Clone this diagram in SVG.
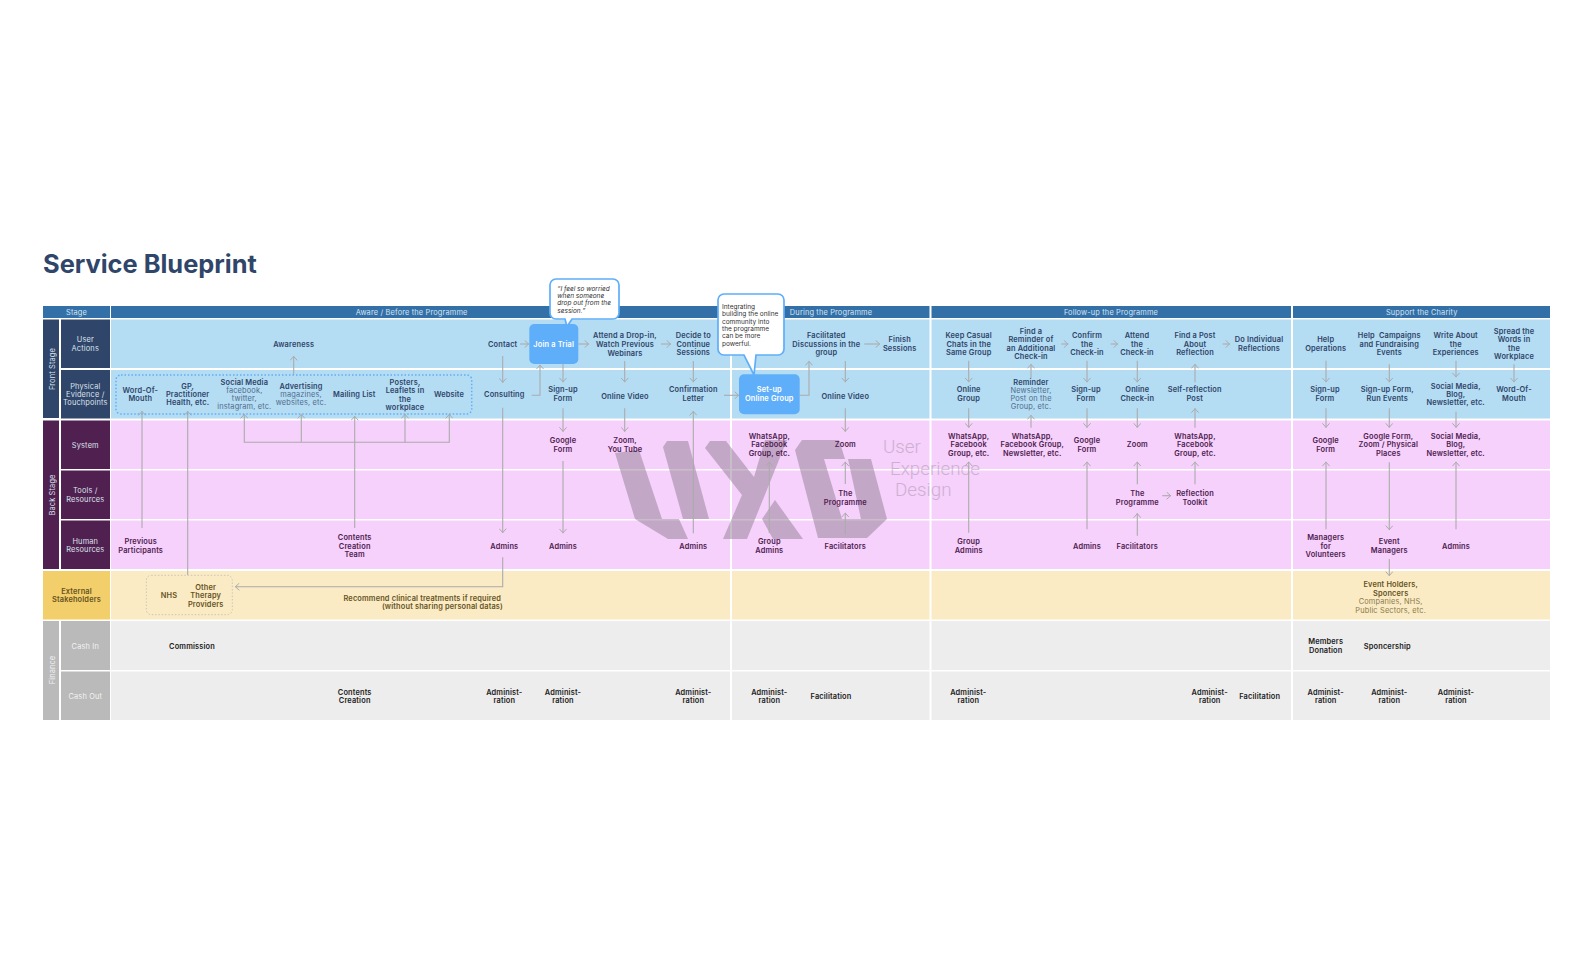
<svg xmlns="http://www.w3.org/2000/svg" width="1594" height="980" viewBox="0 0 1594 980">
<style>
text{font-family:Inter,"Noto Sans","Liberation Sans",sans-serif;font-size:7.4px;font-weight:600;text-anchor:middle;letter-spacing:.16px}
.t{font-size:25.4px;font-weight:700;fill:#2F4569;text-anchor:start;letter-spacing:0}
.h{fill:#D5E4F2;font-weight:400;font-size:7.4px}
.l{fill:#DDE3EE;font-weight:400;font-size:7.4px}
.lg{fill:#F3F3F3;font-weight:400;font-size:7.4px}
.b{fill:#2F4569}.p{fill:#4F2050}.y{fill:#66531F}.k{fill:#222}
.s{font-weight:400;opacity:.75}
.w{fill:#fff}
.q{font-size:6.5px;font-weight:400;text-anchor:start;fill:#333;letter-spacing:0}
.c path{fill:none;stroke:#ABABAB;stroke-width:1.1}
.a{marker-end:url(#ah)}
.wm{font-family:Roboto,Inter,sans-serif;font-size:18.8px;font-weight:300;fill:#917D93;opacity:.4;text-anchor:start;letter-spacing:0}
</style>
<defs>
<marker id="ah" markerUnits="userSpaceOnUse" viewBox="0 0 5 8" refX="5" refY="4" markerWidth="5" markerHeight="8" orient="auto"><path d="M.6.4 4.6 4 .6 7.6" fill="none" stroke="#ABABAB" stroke-width="1"/></marker>
</defs>
<rect width="1594" height="980" fill="#fff"/>
<text class="t" x="43" y="273">Service Blueprint</text>

<g id="grid">
<rect x="43" y="306" width="67" height="12" fill="#3470A8"/>
<rect x="111" y="306" width="1439" height="12" fill="#3470A8"/>
<rect x="111" y="319.5" width="1439" height="48.5" fill="#B4DCF3"/>
<rect x="111" y="370" width="1439" height="48.5" fill="#B4DCF3"/>
<rect x="111" y="420.5" width="1439" height="48.5" fill="#F5D1FB"/>
<rect x="111" y="470.5" width="1439" height="48.5" fill="#F5D1FB"/>
<rect x="111" y="520.5" width="1439" height="48.5" fill="#F5D1FB"/>
<rect x="111" y="571" width="1439" height="48.5" fill="#FAEBC4"/>
<rect x="111" y="621" width="1439" height="49" fill="#EDEDED"/>
<rect x="111" y="671.5" width="1439" height="48.5" fill="#EDEDED"/>
<rect x="730" y="306" width="2" height="414" fill="#fff"/>
<rect x="929.5" y="306" width="2" height="414" fill="#fff"/>
<rect x="1291" y="306" width="2" height="414" fill="#fff"/>
<rect x="43" y="319.5" width="16" height="98.5" fill="#2F4569"/>
<rect x="43" y="420.5" width="16" height="148.5" fill="#4F2050"/>
<rect x="43" y="621" width="16" height="99" fill="#BABABA"/>
<rect x="61" y="319.5" width="49" height="48.5" fill="#2F4569"/>
<rect x="61" y="370" width="49" height="48.5" fill="#2F4569"/>
<rect x="61" y="420.5" width="49" height="48.5" fill="#4F2050"/>
<rect x="61" y="470.5" width="49" height="48.5" fill="#4F2050"/>
<rect x="61" y="520.5" width="49" height="48.5" fill="#4F2050"/>
<rect x="43" y="571" width="67" height="48.5" fill="#F3CF6B"/>
<rect x="61" y="621" width="49" height="49" fill="#BABABA"/>
<rect x="61" y="671.5" width="49" height="48.5" fill="#BABABA"/>
</g>

<g id="headers">
<text class="h" x="76.5" y="315">Stage</text>
<text class="h" x="411.6" y="315">Aware / Before the Programme</text>
<text class="h" x="831" y="315">During the Programme</text>
<text class="h" x="1111" y="315">Follow-up the Programme</text>
<text class="h" x="1421.7" y="315">Support the Charity</text>
<text class="l" transform="translate(54.5 369) rotate(-90)">Front Stage</text>
<text class="l" transform="translate(54.5 495) rotate(-90)">Back Stage</text>
<text class="lg" transform="translate(54.5 670) rotate(-90)">Finance</text>
<text class="l" x="85.3" y="342.4">User<tspan x="85.3" dy="8.4">Actions</tspan></text>
<text class="l" x="85.3" y="388.6">Physical<tspan x="85.3" dy="8.4">Evidence /</tspan><tspan x="85.3" dy="8.4">Touchpoints</tspan></text>
<text class="l" x="85.3" y="447.6">System</text>
<text class="l" x="85.3" y="493.4">Tools /<tspan x="85.3" dy="8.4">Resources</tspan></text>
<text class="l" x="85.3" y="544">Human<tspan x="85.3" dy="8.4">Resources</tspan></text>
<text class="y" x="76.5" y="594">External<tspan x="76.5" dy="8.4">Stakeholders</tspan></text>
<text class="lg" x="85.3" y="649">Cash In</text>
<text class="lg" x="85.3" y="699">Cash Out</text>
</g>

<g id="watermark">
<path fill="#917D93" opacity=".5" d="M615 453 639 450 662 519 683 519 663 447 667 441 688 441 709 519 679 519 688 539 668 539 635 519Z"/>
<path fill="#917D93" opacity=".5" d="M705 448 710 441 726 441 754 477 765 440 787 440 747 539 723 539 742 495Z"/>
<path fill="#917D93" opacity=".5" d="M762 519 775 500 803 539 773 539Z"/>
<path fill="#917D93" opacity=".5" d="M795 450 802 440 839 440 845 459 824 459 842 519 861 519 848 459 871 459 887 519 867 538 818 538Z"/>
<text class="wm" x="883" y="453">User</text>
<text class="wm" x="890" y="475">Experience</text>
<text class="wm" x="895" y="496">Design</text>
</g>

<g id="connectors" class="c">
<path class="a" d="M293.7 375V356"/>
<path class="a" d="M142 528V411"/>
<path class="a" d="M187.7 575V411"/>
<path class="a" d="M354.7 528V416"/>
<path class="a" d="M301.3 442.3H244.3V414"/>
<path class="a" d="M301.3 442.3V414"/>
<path class="a" d="M354.7 442.3H405V414"/>
<path class="a" d="M405 442.3H449.3V414"/>
<path d="M301.3 442.3H354.7"/>
<path class="a" d="M502.7 356V382.7"/>
<path class="a" d="M502.7 407.7V533"/>
<path class="a" d="M502.7 557.3V586.7H235"/>
<path class="a" d="M520 344H529"/>
<path class="a" d="M578.5 344H589"/>
<path class="a" d="M661 344H671"/>
<path class="a" d="M864.3 344H880"/>
<path class="a" d="M563 364V382.3"/>
<path class="a" d="M531.7 395.3H540V364.7"/>
<path class="a" d="M563 408.3V431.7"/>
<path class="a" d="M563 461V533.3"/>
<path class="a" d="M624.7 361V382.3"/>
<path class="a" d="M624.7 408.3V431.7"/>
<path class="a" d="M693.3 361V382.3"/>
<path class="a" d="M693.3 533.3V411"/>
<path class="a" d="M724 395.3H739"/>
<path class="a" d="M799.7 395.3H809V361"/>
<path class="a" d="M845.3 361V382.3"/>
<path class="a" d="M845.3 408.3V431.7"/>
<path class="a" d="M845.3 484V461.7"/>
<path class="a" d="M845.3 535V512.7"/>
<path class="a" d="M769.3 533V461.7"/>
<path class="a" d="M1061.3 344H1068.3"/>
<path class="a" d="M1110.7 344H1118"/>
<path class="a" d="M1222.7 344H1230"/>
<path class="a" d="M968.7 360.7V382.3"/>
<path class="a" d="M1031 378.3V364"/>
<path class="a" d="M1087 360.7V382.3"/>
<path class="a" d="M1137.3 360.7V382.3"/>
<path class="a" d="M1195 382.3V364"/>
<path class="a" d="M968.7 408.3V427.7"/>
<path class="a" d="M1031 427.7V415"/>
<path class="a" d="M1087 408.3V427.7"/>
<path class="a" d="M1137.3 408.3V427.7"/>
<path class="a" d="M1195 427.7V408.3"/>
<path class="a" d="M968.7 532.7V461.7"/>
<path class="a" d="M1087 529.3V461.7"/>
<path class="a" d="M1137.3 484.3V461.7"/>
<path class="a" d="M1195 484.3V461.7"/>
<path class="a" d="M1162.3 495.7H1171"/>
<path class="a" d="M1137.3 535.7V513.3"/>
<path class="a" d="M1326 360.7V382.3"/>
<path class="a" d="M1389.3 364.3V382.3"/>
<path class="a" d="M1456 360.7V377.3"/>
<path class="a" d="M1514 364.3V382.3"/>
<path class="a" d="M1326 408.3V427.7"/>
<path class="a" d="M1389.3 408.3V427.7"/>
<path class="a" d="M1456 411.7V427.7"/>
<path class="a" d="M1326 529.3V461.7"/>
<path class="a" d="M1456 529.3V461.7"/>
<path class="a" d="M1389.3 462.3V530"/>
<path class="a" d="M1389.3 559V576"/>
</g>

<g id="touchpoints-frame"><rect x="116" y="375" width="355.7" height="39" rx="5" fill="none" stroke="#5FAEF9" stroke-width="1.5" stroke-dasharray="1.5 2"/></g>
<g id="therapy-frame"><rect x="146.3" y="575.3" width="86" height="39.4" rx="5" fill="none" stroke="#C9C6B8" stroke-width="1" stroke-dasharray="1.5 1.8"/></g>

<g id="join-trial"><rect x="529.3" y="324" width="49" height="40" rx="5" fill="#5FAEF9"/><text class="w" x="553.7" y="346.6">Join a Trial</text></g>
<g id="setup-group"><rect x="739" y="374.3" width="60.7" height="40" rx="5" fill="#5FAEF9"/><text class="w" x="769.3" y="392.4">Set-up<tspan x="769.3" dy="8.4">Online Group</tspan></text></g>
<g id="quote-bubble"><path d="M556 279H613a6 6 0 0 1 6 6V313a6 6 0 0 1-6 6H572L567 326.5 565 319H556a6 6 0 0 1-6-6V285a6 6 0 0 1 6-6Z" fill="#fff" stroke="#5FAEF9" stroke-width="1.7"/>
<text class="q" x="557.3" y="290.5" font-style="italic">“I feel so worried<tspan x="557.3" dy="7.35">when someone</tspan><tspan x="557.3" dy="7.35">drop out from the</tspan><tspan x="557.3" dy="7.35">session.”</tspan></text></g>
<g id="note-bubble"><path d="M724 294H778a6 6 0 0 1 6 6V349a6 6 0 0 1-6 6H756L754 375 744 355H724a6 6 0 0 1-6-6V300a6 6 0 0 1 6-6Z" fill="#fff" stroke="#5FAEF9" stroke-width="1.7"/>
<text class="q" x="722" y="309">Integrating<tspan x="722" dy="7.35">building the online</tspan><tspan x="722" dy="7.35">community into</tspan><tspan x="722" dy="7.35">the programme</tspan><tspan x="722" dy="7.35">can be more</tspan><tspan x="722" dy="7.35">powerful.</tspan></text></g>

<g id="user-actions" class="b">
<text class="b" x="293.7" y="346.6">Awareness</text>
<text class="b" x="502.7" y="346.6">Contact</text>
<text class="b" x="625" y="338.2">Attend a Drop-in,<tspan x="625" dy="9">Watch Previous</tspan><tspan x="625" dy="8.4">Webinars</tspan></text>
<text class="b" x="693.3" y="338.2">Decide to<tspan x="693.3" dy="8.4">Continue</tspan><tspan x="693.3" dy="8.4">Sessions</tspan></text>
<text class="b" x="826.3" y="338.2">Facilitated<tspan x="826.3" dy="8.4">Discussions in the</tspan><tspan x="826.3" dy="8.4">group</tspan></text>
<text class="b" x="899.7" y="342.4">Finish<tspan x="899.7" dy="8.4">Sessions</tspan></text>
<text class="b" x="968.7" y="338.2">Keep Casual<tspan x="968.7" dy="8.4">Chats in the</tspan><tspan x="968.7" dy="8.4">Same Group</tspan></text>
<text class="b" x="1031" y="334">Find a<tspan x="1031" dy="8.4">Reminder of</tspan><tspan x="1031" dy="8.4">an Additional</tspan><tspan x="1031" dy="8.4">Check-in</tspan></text>
<text class="b" x="1087" y="338.2">Confirm<tspan x="1087" dy="8.4">the</tspan><tspan x="1087" dy="8.4">Check-in</tspan></text>
<text class="b" x="1137" y="338.2">Attend<tspan x="1137" dy="8.4">the</tspan><tspan x="1137" dy="8.4">Check-in</tspan></text>
<text class="b" x="1195" y="338.2">Find a Post<tspan x="1195" dy="8.4">About</tspan><tspan x="1195" dy="8.4">Reflection</tspan></text>
<text class="b" x="1259" y="342.4">Do Individual<tspan x="1259" dy="8.4">Reflections</tspan></text>
<text class="b" x="1325.7" y="342.4">Help<tspan x="1325.7" dy="8.4">Operations</tspan></text>
<text class="b" x="1389.3" y="338.2" xml:space="preserve">Help  Campaigns<tspan x="1389.3" dy="8.4">and Fundraising</tspan><tspan x="1389.3" dy="8.4">Events</tspan></text>
<text class="b" x="1455.7" y="338.2">Write About<tspan x="1455.7" dy="8.4">the</tspan><tspan x="1455.7" dy="8.4">Experiences</tspan></text>
<text class="b" x="1514" y="334">Spread the<tspan x="1514" dy="8.4">Words in</tspan><tspan x="1514" dy="8.4">the</tspan><tspan x="1514" dy="8.4">Workplace</tspan></text>
</g>

<g id="touchpoints">
<text class="b" x="140.3" y="392.8">Word-Of-<tspan x="140.3" dy="8.4">Mouth</tspan></text>
<text class="b" x="187.7" y="388.6">GP,<tspan x="187.7" dy="8.4">Practitioner</tspan><tspan x="187.7" dy="8.4">Health, etc.</tspan></text>
<text class="b" x="244.3" y="385">Social Media<tspan class="s" x="244.3" dy="8">facebook,</tspan><tspan class="s" x="244.3" dy="8">twitter,</tspan><tspan class="s" x="244.3" dy="7.8">instagram, etc.</tspan></text>
<text class="b" x="301" y="389">Advertising<tspan class="s" x="301" dy="8">magazines,</tspan><tspan class="s" x="301" dy="7.8">websites, etc.</tspan></text>
<text class="b" x="354.3" y="397.3">Mailing List</text>
<text class="b" x="405" y="384.8">Posters,<tspan x="405" dy="8.4">Leaflets in</tspan><tspan x="405" dy="8.4">the</tspan><tspan x="405" dy="8.4">workplace</tspan></text>
<text class="b" x="449" y="397.3">Website</text>
<text class="b" x="504.3" y="397.3">Consulting</text>
<text class="b" x="563" y="392.4">Sign-up<tspan x="563" dy="8.4">Form</tspan></text>
<text class="b" x="625" y="398.9">Online Video</text>
<text class="b" x="693.3" y="392.4">Confirmation<tspan x="693.3" dy="8.4">Letter</tspan></text>
<text class="b" x="845.3" y="398.9">Online Video</text>
<text class="b" x="968.7" y="392.4">Online<tspan x="968.7" dy="8.4">Group</tspan></text>
<text class="b" x="1031" y="385">Reminder<tspan class="s" x="1031" dy="8">Newsletter,</tspan><tspan class="s" x="1031" dy="8">Post on the</tspan><tspan class="s" x="1031" dy="8">Group, etc.</tspan></text>
<text class="b" x="1086" y="392.4">Sign-up<tspan x="1086" dy="8.4">Form</tspan></text>
<text class="b" x="1137.3" y="392.4">Online<tspan x="1137.3" dy="8.4">Check-in</tspan></text>
<text class="b" x="1194.7" y="392.4">Self-reflection<tspan x="1194.7" dy="8.4">Post</tspan></text>
<text class="b" x="1325" y="392.4">Sign-up<tspan x="1325" dy="8.4">Form</tspan></text>
<text class="b" x="1387.3" y="392.4">Sign-up Form,<tspan x="1387.3" dy="8.4">Run Events</tspan></text>
<text class="b" x="1455.7" y="388.6">Social Media,<tspan x="1455.7" dy="8.4">Blog,</tspan><tspan x="1455.7" dy="8.4">Newsletter, etc.</tspan></text>
<text class="b" x="1514" y="392.4">Word-Of-<tspan x="1514" dy="8.4">Mouth</tspan></text>
</g>

<g id="system">
<text class="p" x="563" y="443.4">Google<tspan x="563" dy="8.4">Form</tspan></text>
<text class="p" x="625" y="443.4">Zoom,<tspan x="625" dy="8.4">You Tube</tspan></text>
<text class="p" x="769.3" y="438.9">WhatsApp,<tspan x="769.3" dy="8.4">Facebook</tspan><tspan x="769.3" dy="8.4">Group, etc.</tspan></text>
<text class="p" x="845.3" y="447.3">Zoom</text>
<text class="p" x="968.7" y="438.9">WhatsApp,<tspan x="968.7" dy="8.4">Facebook</tspan><tspan x="968.7" dy="8.4">Group, etc.</tspan></text>
<text class="p" x="1032.3" y="438.9">WhatsApp,<tspan x="1032.3" dy="8.4">Facebook Group,</tspan><tspan x="1032.3" dy="8.4">Newsletter, etc.</tspan></text>
<text class="p" x="1087" y="443.4">Google<tspan x="1087" dy="8.4">Form</tspan></text>
<text class="p" x="1137.3" y="447.3">Zoom</text>
<text class="p" x="1195" y="438.9">WhatsApp,<tspan x="1195" dy="8.4">Facebook</tspan><tspan x="1195" dy="8.4">Group, etc.</tspan></text>
<text class="p" x="1325.7" y="443.4">Google<tspan x="1325.7" dy="8.4">Form</tspan></text>
<text class="p" x="1388.3" y="438.9">Google Form,<tspan x="1388.3" dy="8.4">Zoom / Physical</tspan><tspan x="1388.3" dy="8.4">Places</tspan></text>
<text class="p" x="1455.7" y="438.9">Social Media,<tspan x="1455.7" dy="8.4">Blog,</tspan><tspan x="1455.7" dy="8.4">Newsletter, etc.</tspan></text>
</g>

<g id="tools">
<text class="p" x="845.3" y="496.1">The<tspan x="845.3" dy="8.4">Programme</tspan></text>
<text class="p" x="1137.3" y="496.1">The<tspan x="1137.3" dy="8.4">Programme</tspan></text>
<text class="p" x="1195" y="496.1">Reflection<tspan x="1195" dy="8.4">Toolkit</tspan></text>
</g>

<g id="human-resources">
<text class="p" x="140.7" y="544.4">Previous<tspan x="140.7" dy="8.4">Participants</tspan></text>
<text class="p" x="354.7" y="540.2">Contents<tspan x="354.7" dy="8.4">Creation</tspan><tspan x="354.7" dy="8.4">Team</tspan></text>
<text class="p" x="504.3" y="548.6">Admins</text>
<text class="p" x="563" y="548.6">Admins</text>
<text class="p" x="693.3" y="548.6">Admins</text>
<text class="p" x="769.3" y="544.4">Group<tspan x="769.3" dy="8.4">Admins</tspan></text>
<text class="p" x="845.3" y="548.6">Facilitators</text>
<text class="p" x="968.7" y="544.4">Group<tspan x="968.7" dy="8.4">Admins</tspan></text>
<text class="p" x="1087" y="548.6">Admins</text>
<text class="p" x="1137.3" y="548.6">Facilitators</text>
<text class="p" x="1325.7" y="540.2">Managers<tspan x="1325.7" dy="8.4">for</tspan><tspan x="1325.7" dy="8.4">Volunteers</tspan></text>
<text class="p" x="1389.3" y="544.4">Event<tspan x="1389.3" dy="8.4">Managers</tspan></text>
<text class="p" x="1456" y="548.6">Admins</text>
</g>

<g id="external">
<text class="y" x="169" y="598.3">NHS</text>
<text class="y" x="205.7" y="589.9">Other<tspan x="205.7" dy="8.4">Therapy</tspan><tspan x="205.7" dy="8.4">Providers</tspan></text>
<text class="y" x="501" y="600.6" style="text-anchor:end">Recommend clinical treatments if required</text>
<text class="y" x="503" y="609.1" style="text-anchor:end">(without sharing personal datas)</text>
<text class="y" x="1390.7" y="587.3">Event Holders,<tspan x="1390.7" dy="8.4">Sponcers</tspan><tspan class="s" x="1390.7" dy="8.4">Companies, NHS,</tspan><tspan class="s" x="1390.7" dy="8.4">Public Sectors, etc.</tspan></text>
</g>

<g id="cash-in">
<text class="k" x="192" y="648.9">Commission</text>
<text class="k" x="1325.7" y="644.4">Members<tspan x="1325.7" dy="8.4">Donation</tspan></text>
<text class="k" x="1387.3" y="648.6">Sponcership</text>
</g>

<g id="cash-out">
<text class="k" x="354.7" y="694.7">Contents<tspan x="354.7" dy="8.4">Creation</tspan></text>
<text class="k" x="504.3" y="694.7">Administ-<tspan x="504.3" dy="8.4">ration</tspan></text>
<text class="k" x="563" y="694.7">Administ-<tspan x="563" dy="8.4">ration</tspan></text>
<text class="k" x="693.3" y="694.7">Administ-<tspan x="693.3" dy="8.4">ration</tspan></text>
<text class="k" x="769.3" y="694.7">Administ-<tspan x="769.3" dy="8.4">ration</tspan></text>
<text class="k" x="831" y="699">Facilitation</text>
<text class="k" x="968.3" y="694.7">Administ-<tspan x="968.3" dy="8.4">ration</tspan></text>
<text class="k" x="1209.7" y="694.7">Administ-<tspan x="1209.7" dy="8.4">ration</tspan></text>
<text class="k" x="1259.7" y="699">Facilitation</text>
<text class="k" x="1325.7" y="694.7">Administ-<tspan x="1325.7" dy="8.4">ration</tspan></text>
<text class="k" x="1389.3" y="694.7">Administ-<tspan x="1389.3" dy="8.4">ration</tspan></text>
<text class="k" x="1456" y="694.7">Administ-<tspan x="1456" dy="8.4">ration</tspan></text>
</g>
</svg>
